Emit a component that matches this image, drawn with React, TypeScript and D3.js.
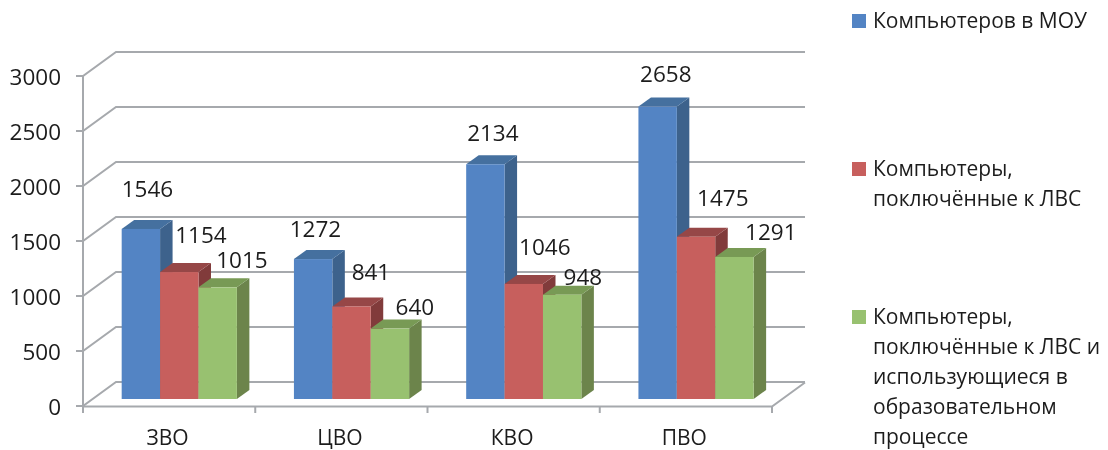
import React from "react";
import * as d3 from "d3";

const categories = ["ЗВО", "ЦВО", "КВО", "ПВО"];
const seriesNames = ["computers", "lan", "lanEducation"];
const computers = [1546, 1272, 2134, 2658];
const lan = [1154, 841, 1046, 1475];
const lanEducation = [1015, 640, 948, 1291];
const yTicks = [0, 500, 1000, 1500, 2000, 2500, 3000];

const legendBlue = ["Компьютеров в МОУ"];
const legendRed = ["Компьютеры,", "поключённые к ЛВС"];
const legendGreen = ["Компьютеры,", "поключённые к ЛВС и", "использующиеся в", "образовательном", "процессе"];

const seriesValues = [computers, lan, lanEducation];
const faces = [
  { front: "#5284C4", side: "#3E628C", top: "#44709F" },
  { front: "#C75F5D", side: "#813B3A", top: "#964747" },
  { front: "#98C170", side: "#6C844C", top: "#789A55" },
];
// manual label placement of the source chart, relative to the top-centre of each bar
const labelNudge = [
  [[6.6, -40], [2.3, -31], [7.5, -32], [8.2, -33.6]],
  [[21.7, -38], [19.4, -34.5], [21, -37], [26.8, -39.7]],
  [[24.3, -28], [25, -22.6], [20.7, -18.7], [36.4, -25]],
];
const legendLayout = [
  { lines: legendBlue, swatchY: 14, firstBaseline: 28, colour: faces[0].front },
  { lines: legendRed, swatchY: 162, firstBaseline: 176, colour: faces[1].front },
  { lines: legendGreen, swatchY: 310, firstBaseline: 324, colour: faces[2].front },
];

const FONT = "'Open Sans', sans-serif";
const INK = "#1c1c1c";
const GRID = "#A6A9AD";
const depth = { x: 33, y: -24 };
const barDepth = { x: 12.5, y: -9 };
const floorOffset = 7;

export default function App() {
  const x = d3.scaleBand<string>().domain(categories).range([83, 772]);
  const y = d3.scaleLinear().domain([0, 3000]).range([406, 76]);
  const inner = d3
    .scaleBand<string>()
    .domain(seriesNames)
    .range([0, x.bandwidth()])
    .paddingInner(0)
    .paddingOuter(0.743)
    .align(0.678);
  const right = 772;
  return (
    <svg
      width={1108}
      height={450}
      style={{ position: "absolute", left: 0, top: 0, background: "#fff" }}
      fontFamily={FONT}
    >
      <defs>
        <filter id="soft" x="0" y="0" width="100%" height="100%">
          <feGaussianBlur stdDeviation="0.45" />
        </filter>
      </defs>
      <g filter="url(#soft)">
        <rect width={1108} height={450} fill="#fff" />
        {/* walls and grid */}
        <g stroke={GRID} strokeWidth={2} fill="none">
          {yTicks.map((t) => (
            <path key={t} d={`M${x.range()[0] - 7},${y(t)}H${x.range()[0]}l${depth.x},${depth.y}H${right + depth.x}`} />
          ))}
          <path d={`M83,${y(3000)}V${y(0) + 7}`} />
          <path d={`M83,${y(0) + 0.5}H${right}l${depth.x},${depth.y}`} />
          {[...categories.map((c) => x(c)!), right].map((p, i) => (
            <path key={i} d={`M${p},${y(0)}v7`} />
          ))}
        </g>

        {/* bars */}
        {categories.map((c, ci) => (
          <g key={c}>
            {seriesNames.map((s, si) => {
              const bx = x(c)! + inner(s)!;
              const w = inner.bandwidth();
              const top = y(seriesValues[si][ci]) - floorOffset;
              const bottom = y(0) - floorOffset;
              const f = faces[si];
              return (
                <g key={s}>
                  <path
                    fill={f.side}
                    d={`M${bx + w},${top}l${barDepth.x},${barDepth.y}V${bottom + barDepth.y}L${bx + w},${bottom}Z`}
                  />
                  <path
                    fill={f.top}
                    d={`M${bx},${top}l${barDepth.x},${barDepth.y}h${w}l${-barDepth.x},${-barDepth.y}Z`}
                  />
                  <rect x={bx} y={top} width={w} height={bottom - top} fill={f.front} />
                </g>
              );
            })}
          </g>
        ))}

        {/* value labels */}
        {categories.map((c, ci) =>
          seriesNames.map((s, si) => {
            const v = seriesValues[si][ci];
            const cx = x(c)! + inner(s)! + inner.bandwidth() / 2 + labelNudge[si][ci][0];
            const cy = y(v) - floorOffset + labelNudge[si][ci][1];
            return (
              <text key={c + s} x={cx} y={cy} textAnchor="middle" dominantBaseline="central" fontSize={22.5} fill={INK}>
                {v}
              </text>
            );
          })
        )}

        {/* y axis labels */}
        {yTicks.map((t) => (
          <text key={t} x={61} y={y(t)} textAnchor="end" dominantBaseline="central" fontSize={22.5} fill={INK}>
            {t}
          </text>
        ))}

        {/* category labels */}
        {categories.map((c) => (
          <text
            key={c}
            x={x(c)! + x.bandwidth() / 2 - 1.5}
            y={445}
            textAnchor="middle"
            fontSize={21}
            fill={INK}
          >
            {c}
          </text>
        ))}

        {/* legend */}
        {legendLayout.map((l, i) => (
          <g key={i}>
            <rect x={852} y={l.swatchY} width={14} height={14} fill={l.colour} />
            {l.lines.map((t, j) => (
              <text key={j} x={873} y={l.firstBaseline + j * 30} fontSize={21} fill={INK}>
                {t}
              </text>
            ))}
          </g>
        ))}
      </g>
    </svg>
  );
}
